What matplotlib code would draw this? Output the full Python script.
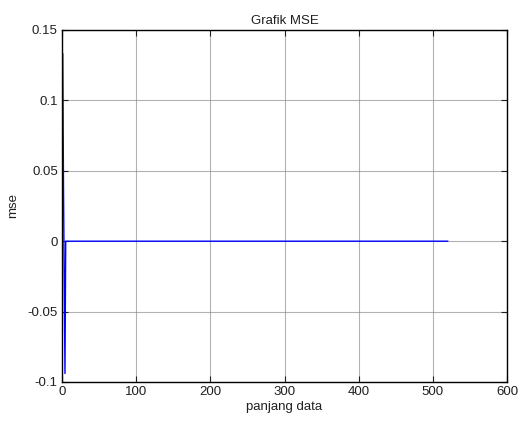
import matplotlib
matplotlib.use("Agg")
import matplotlib.pyplot as plt
import numpy as np

plt.rcParams['font.family'] = ['Liberation Sans', 'DejaVu Sans']

# data
head_vals = [0.133, 0.04, -0.03, -0.094, 0.0]
n_total = 520
tail_vals = [0.0] * (n_total - len(head_vals))
mse = head_vals + tail_vals
idx = list(range(1, n_total + 1))

xticks = [0, 100, 200, 300, 400, 500, 600]
yticks = [-0.1, -0.05, 0, 0.05, 0.1, 0.15]
yticklabels = ['-0.1', '-0.05', '0', '0.05', '0.1', '0.15']

fs = 9.5
fig = plt.figure(figsize=(5.19, 4.21), dpi=100)
ax = fig.add_axes([62/519, 1-382/421, (507-62)/519, (382-30)/421])
ax.plot(idx, mse, color='#0000ff', lw=1)
ax.set_xlim(0, 600)
ax.set_ylim(-0.1, 0.15)
ax.set_xticks(xticks)
ax.set_yticks(yticks)
ax.set_yticklabels(yticklabels)
ax.grid(True, color='#808080', alpha=0.6, lw=0.8)
ax.tick_params(direction='in', length=4, labelsize=fs, top=True, right=True,
               labeltop=False, labelright=False, width=0.8, pad=3,
               colors='#202020')
for s in ax.spines.values():
    s.set_linewidth(1.0)
ax.set_title('Grafik MSE', fontsize=fs, pad=4, color='#202020')
ax.set_xlabel('panjang data', fontsize=fs, labelpad=2, color='#202020')
ax.set_ylabel('mse', fontsize=fs, labelpad=6, color='#202020')
fig.savefig('out.png', dpi=100)
